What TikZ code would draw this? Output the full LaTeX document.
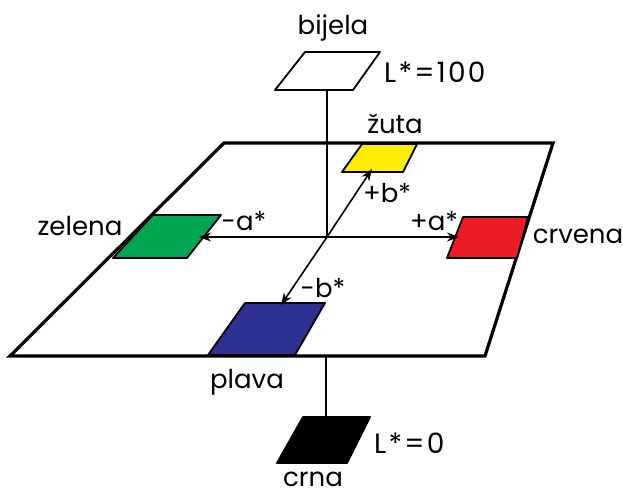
\documentclass[tikz,border=0pt]{standalone}
\usepackage{fontspec}
\setmainfont{Poppins}
\usetikzlibrary{arrows.meta}

\definecolor{zuta}{RGB}{255,237,0}
\definecolor{zelena}{RGB}{0,166,81}
\definecolor{crvena}{RGB}{237,28,36}
\definecolor{plava}{RGB}{46,49,146}

\begin{document}
\begin{tikzpicture}[x=1pt, y=-1pt,
  every node/.style = {font=\fontsize{26}{30}\selectfont, inner sep=0pt, anchor=base},
  lstar/.style = {font=\fontsize{28}{32}\selectfont\addfontfeature{LetterSpace=8}, anchor=base west},
  plane/.style = {draw, line width=3.2pt, line join=miter},
  patch/.style = {draw, line width=1.8pt, line join=round},
  axis/.style = {line width=1.6pt},
  arr/.style = {axis, -{Stealth[length=12pt, width=9pt]}}]
  \useasboundingbox (0,0) rectangle (623,492);

  % ravnina a*b*
  \draw [plane] (224,143) -- (553,143) -- (485,356) -- (10,356) -- cycle;

  % os L*
  \coordinate (O) at (327,237);
  \coordinate (Lw) at (327,90);
  \coordinate (Lp) at (326,356);
  \coordinate (Lb) at (326,433);
  \draw [axis] (Lw) -- (O);
  \draw [axis] (Lp) -- (Lb);

  % boje
  \filldraw [patch, fill=white] (305,52) -- (380,52) -- (353,90) -- (275,90) -- cycle;
  \filldraw [patch, fill=zuta] (362,144) -- (417,144) -- (403,172) -- (342,172) -- cycle;
  \filldraw [patch, fill=zelena] (153,215) -- (221,215) -- (187,258) -- (113,258) -- cycle;
  \filldraw [patch, fill=crvena] (463,217) -- (528,217) -- (517,258) -- (447,258) -- cycle;
  \filldraw [patch, fill=plava] (245,303) -- (325,303) -- (295,355) -- (208,355) -- cycle;
  \filldraw [patch, fill=black] (303,417) -- (370,417) -- (347,463) -- (277,463) -- cycle;

  % osi a* i b*
  \coordinate (Ga) at (199,237);
  \coordinate (Ra) at (459,237);
  \coordinate (Yb) at (372,169);
  \coordinate (Bb) at (281,305);
  \draw [arr] (O) -- (Ga);
  \draw [arr] (O) -- (Ra);
  \draw [arr] (O) -- (Yb);
  \draw [arr] (O) -- (Bb);

  % oznake
  \node (bijela) at (333,35) {bijela};
  \node [lstar] (L100) at (384,83) {L*=100};
  \node (zut) at (395,133) {žuta};
  \node (zel) at (80,235) {zelena};
  \node (crv) at (578,243) {crvena};
  \node (pla) at (247,388) {plava};
  \node (crn) at (313,486) {crna};
  \node [lstar] (L0) at (374,453) {L*=0};
  \node (ma) at (244,230) {-a*};
  \node (pa) at (434,230) {+a*};
  \node (pb) at (387,202) {+b*};
  \node (mb) at (323,297) {-b*};
\end{tikzpicture}
\end{document}
